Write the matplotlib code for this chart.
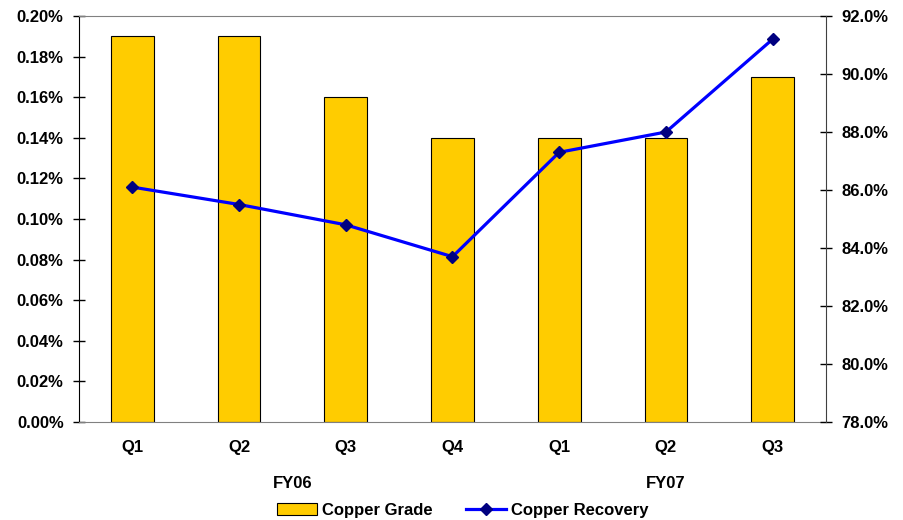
import matplotlib
matplotlib.use("Agg")
import matplotlib.pyplot as plt
from matplotlib.ticker import FuncFormatter
import numpy as np

quarters = ["Q1", "Q2", "Q3", "Q4", "Q1", "Q2", "Q3"]
fiscal_years = ["FY06", "FY07"]
fy_groups = [[0, 1, 2, 3], [4, 5, 6]]
copper_grade = [0.19, 0.19, 0.16, 0.14, 0.14, 0.14, 0.17]  # percent
copper_recovery = [86.1, 85.5, 84.8, 83.7, 87.3, 88.0, 91.2]  # percent

plt.rcParams['font.family'] = ['Liberation Sans', 'DejaVu Sans']
plt.rcParams['font.weight'] = 'bold'
FS = 12

fig = plt.figure(figsize=(9.04, 5.20), dpi=100)
ax = fig.add_axes([79/904, 1-422/520, (826-79)/904, (422-16)/520])
x = np.arange(len(quarters))
ax.bar(x, copper_grade, width=0.40, color="#FFCC00", edgecolor="black", linewidth=0.8, zorder=2,
       label="Copper Grade")
ax.set_xlim(-0.5, len(quarters)-0.5)
ax.set_ylim(0, 0.20)
ax.set_yticks(np.arange(0, 0.2001, 0.02))
ax.yaxis.set_major_formatter(FuncFormatter(lambda v, p: f"{v:.2f}%"))
ax.set_xticks(x)
ax.set_xticklabels(quarters, fontsize=FS, fontweight='bold')
ax.tick_params(axis='x', length=0, pad=13)
ax.tick_params(axis='y', direction='inout', length=8, width=1, labelsize=FS, pad=7)
for s in ["top", "bottom"]:
    ax.spines[s].set_color("#808080")
ax.spines["left"].set_color("black")
ax.spines["right"].set_visible(False)

ax2 = ax.twinx()
ax2.plot(x, copper_recovery, color="#0000FF", linewidth=2.3, marker="D", markersize=6,
         markerfacecolor="#000080", markeredgecolor="#000080", zorder=3, label="Copper Recovery")
ax2.set_ylim(78, 92)
ax2.set_yticks(np.arange(78, 92.01, 2))
ax2.yaxis.set_major_formatter(FuncFormatter(lambda v, p: f"{v:.1f}%"))
ax2.tick_params(axis='y', direction='inout', length=8, width=1, labelsize=FS, pad=7)
for s in ["top", "bottom", "left"]:
    ax2.spines[s].set_visible(False)
ax2.spines["right"].set_color("#404040")
for lab in ax.get_yticklabels() + ax2.get_yticklabels():
    lab.set_fontweight('bold')

# fiscal-year group labels
for fy, grp in zip(fiscal_years, fy_groups):
    cx = (grp[0] + grp[-1]) / 2
    ax.annotate(fy, xy=(cx, 0), xycoords=('data', 'axes fraction'), xytext=(0, -44),
                textcoords='offset points', ha='center', va='center', fontsize=FS, fontweight='bold')

h1, l1 = ax.get_legend_handles_labels()
h2, l2 = ax2.get_legend_handles_labels()
fig.legend(h1 + h2, l1 + l2, loc='center', bbox_to_anchor=(463/904, 1-510/520), ncol=2, frameon=False,
           prop={'size': FS, 'weight': 'bold'}, handlelength=2.4, columnspacing=2.0, handletextpad=0.3)

fig.savefig("out.png", dpi=100)
